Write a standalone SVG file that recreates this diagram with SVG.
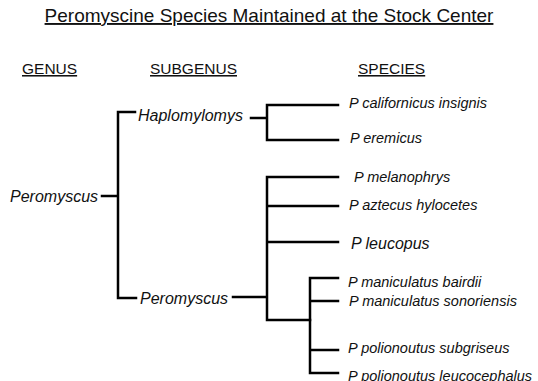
<svg xmlns="http://www.w3.org/2000/svg" width="538" height="381" viewBox="0 0 538 381">
<style>
text{font-family:"Liberation Sans",Arial,sans-serif;fill:#111}
.title{font-size:19px;text-decoration:underline}
.hdr{font-size:15.5px;text-decoration:underline}
.tx{font-size:16px;font-style:italic}
.sp{font-size:14.5px;font-style:italic}
.big{font-size:16px;font-style:italic}
.ln{stroke:#000;stroke-width:2.5;fill:none;stroke-linecap:square}
</style>
<rect width="538" height="381" fill="#fff"/>
<text class="title" x="269" y="22" text-anchor="middle">Peromyscine Species Maintained at the Stock Center</text>
<text class="hdr" x="22" y="74">GENUS</text>
<text class="hdr" x="150" y="74">SUBGENUS</text>
<text class="hdr" x="358" y="74">SPECIES</text>
<g id="connectors">
<path class="ln" d="M102 196H118M135 112H118V298H136"/>
<path class="ln" d="M251 118H267M338 105H267V140H338"/>
<path class="ln" d="M233 297H267M338 177H267V320H310M338 206H267M338 242H267"/>
<path class="ln" d="M338 278H310V373H338M338 301H310M338 350H310"/>
</g>
<g id="genus-peromyscus"><text class="tx" x="10" y="202">Peromyscus</text></g>
<g id="subgenus-haplomylomys"><text class="tx" x="138" y="121">Haplomylomys</text></g>
<g id="subgenus-peromyscus"><text class="tx" x="140" y="304">Peromyscus</text></g>
<g id="sp-californicus"><text class="sp" x="349" y="108">P californicus insignis</text></g>
<g id="sp-eremicus"><text class="sp" x="350" y="143">P eremicus</text></g>
<g id="sp-melanophrys"><text class="sp" x="354" y="182">P melanophrys</text></g>
<g id="sp-aztecus"><text class="sp" x="349" y="210">P aztecus hylocetes</text></g>
<g id="sp-leucopus"><text class="big" x="351" y="249">P leucopus</text></g>
<g id="sp-bairdii"><text class="sp" x="348" y="287">P maniculatus bairdii</text></g>
<g id="sp-sonoriensis"><text class="sp" x="349" y="306">P maniculatus sonoriensis</text></g>
<g id="sp-subgriseus"><text class="sp" x="348" y="353">P polionoutus subgriseus</text></g>
<g id="sp-leucocephalus"><text class="sp" x="348" y="381">P polionoutus leucocephalus</text></g>
</svg>
